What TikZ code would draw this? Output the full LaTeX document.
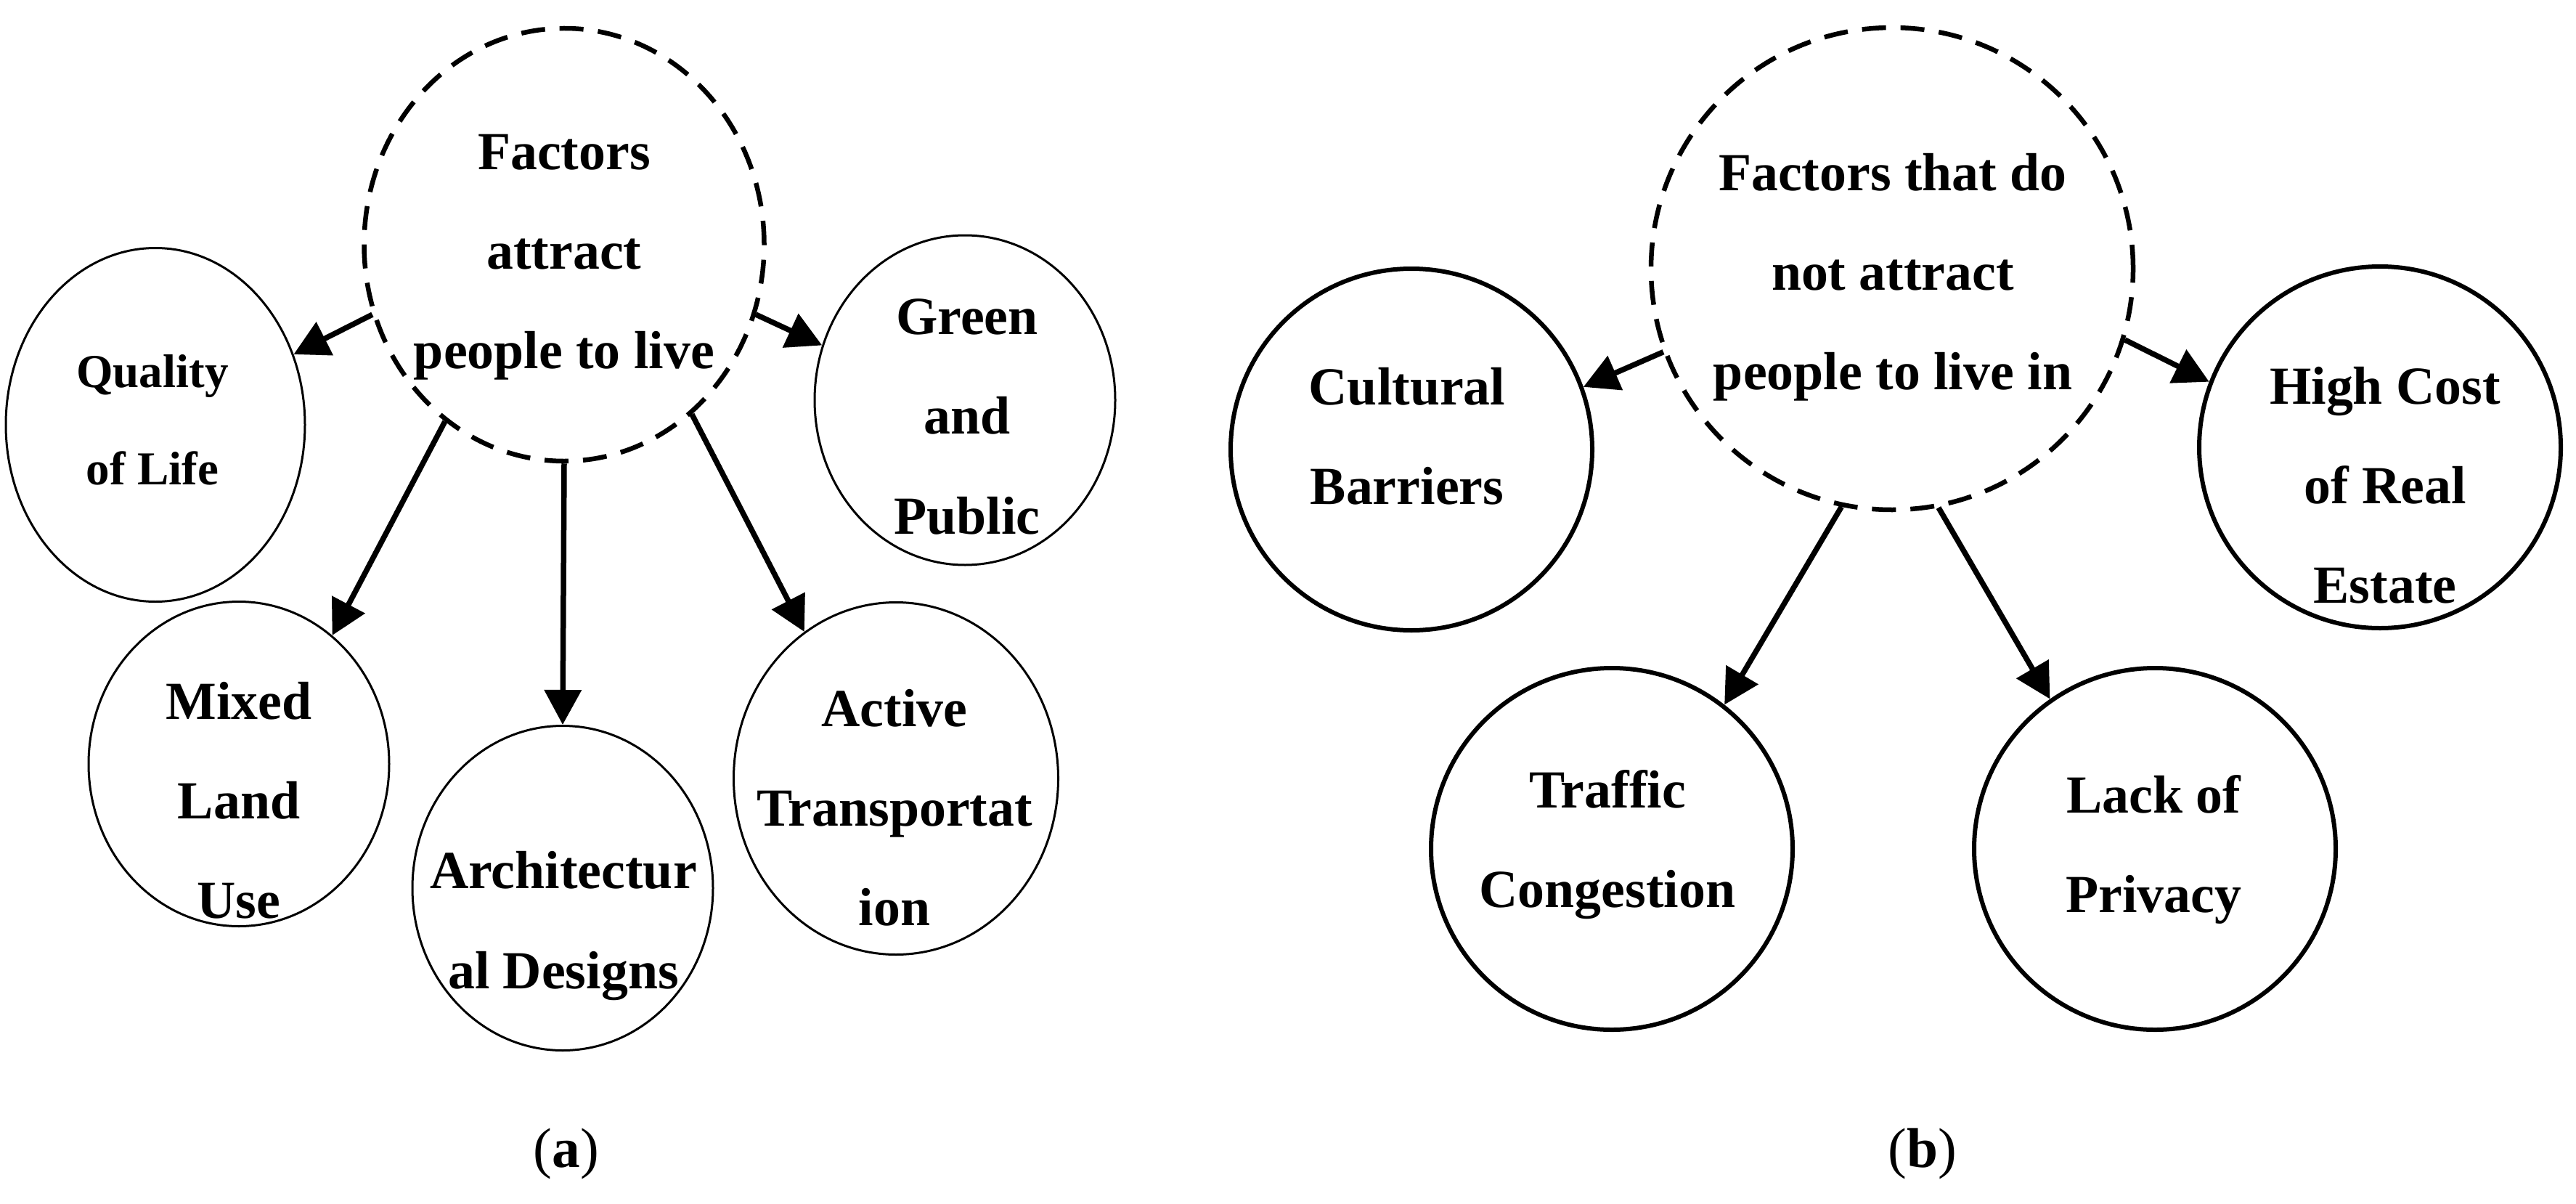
\documentclass[tikz,border=0pt]{standalone}
\usepackage{fontspec}
\setmainfont{Liberation Serif}
\usepackage{tikz}
\usetikzlibrary{shapes.geometric}
\usetikzlibrary{arrows.meta}

\begin{document}
\begin{tikzpicture}[
  hub/.style={draw, ellipse, inner sep=0pt, line width=0.065cm, dash pattern=on 0.33cm off 0.2cm},
  leaf/.style={draw, ellipse, inner sep=0pt, line width=0.03cm},
  leafb/.style={draw, circle, inner sep=0pt, line width=0.06cm, minimum size=4.98cm},
  txt/.style={font=\fontsize{21pt}{39pt}\selectfont\bfseries, align=center, inner sep=0pt},
  link/.style={line width=0.075cm, -{Triangle[length=0.48cm,width=0.5cm]}}
]
\useasboundingbox (0,0) rectangle (35.48,-16.57);

% (a) factors that attract
\node[hub, minimum width=5.51cm, minimum height=5.96cm] (fa) at (7.77,-3.37) {};
\node[leaf, minimum width=4.12cm, minimum height=4.87cm] (fq) at (2.14,-5.85) {};
\node[leaf, minimum width=4.14cm, minimum height=4.54cm] (fg) at (13.29,-5.51) {};
\node[leaf, minimum width=4.14cm, minimum height=4.47cm] (fm) at (3.29,-10.52) {};
\node[leaf, minimum width=4.14cm, minimum height=4.47cm] (fd) at (7.75,-12.23) {};
\node[leaf, minimum width=4.47cm, minimum height=4.85cm] (ft) at (12.34,-10.72) {};

\node[txt] (fa-t) at (7.77,-3.54) {Factors\\attract\\people to live};
\node[txt, font=\fontsize{18.5pt}{38pt}\selectfont\bfseries] (fq-t) at (2.10,-5.78) {Quality\\of Life};
\node[txt] (fg-t) at (13.32,-5.74) {Green\\and\\Public};
\node[txt] (fm-t) at (3.29,-11.02) {Mixed\\Land\\Use};
\node[txt] (fd-t) at (7.76,-12.75) {Architectur\\al Designs};
\node[txt] (ft-t) at (12.32,-11.12) {Active\\Transportat\\ion};

\draw[link] (fa.200) -- (fq.27);
\draw[link] (fa.340) -- (fg.159);
\draw[link] (fa.236) -- (fm.54);
\draw[link] (fa.270) -- (fd.90);
\draw[link] (fa.307) -- (ft.122);

% (b) factors that do not attract
\node[hub, minimum width=6.64cm, minimum height=6.64cm] (fb) at (26.06,-3.70) {};
\node[leafb] (cb) at (19.44,-6.19) {};
\node[leafb] (tc) at (22.20,-11.69) {};
\node[leafb] (lp) at (29.68,-11.69) {};
\node[leafb] (hc) at (32.78,-6.16) {};

\node[txt] (fb-t) at (26.07,-3.82) {Factors that do\\not attract\\people to live in};
\node[txt] (cb-t) at (19.38,-6.01) {Cultural\\Barriers};
\node[txt] (tc-t) at (22.14,-11.63) {Traffic\\Congestion};
\node[txt] (lp-t) at (29.66,-11.70) {Lack of\\Privacy};
\node[txt] (hc-t) at (32.85,-6.68) {High Cost\\of Real\\Estate};

\draw[link] (fb.200) -- (cb.20);
\draw[link] (fb.343) -- (hc.159);
\draw[link] (fb.258) -- (tc.52);
\draw[link] (fb.281) -- (lp.125);

% captions
\node[font=\fontsize{22pt}{26pt}\selectfont] (capa) at (7.80,-15.89) {(\textbf{a})};
\node[font=\fontsize{22pt}{26pt}\selectfont] (capb) at (26.48,-15.89) {(\textbf{b})};
\end{tikzpicture}
\end{document}
